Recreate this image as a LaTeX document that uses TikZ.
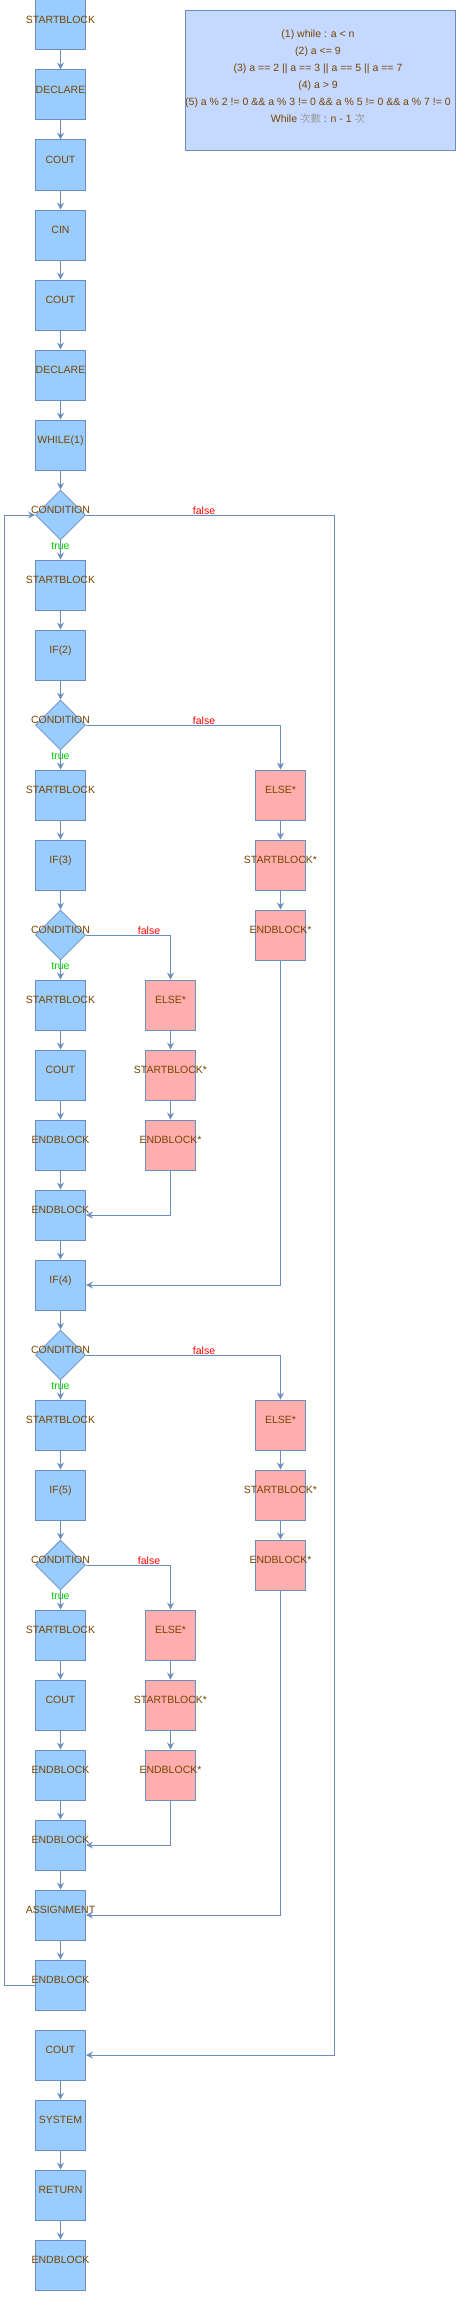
\documentclass[tikz,border=0pt]{standalone}
\usepackage{fontspec}
\setmainfont{Liberation Sans}
\newfontfamily\cjk{Noto Sans CJK TC}
\usepackage{tikz}
\usetikzlibrary{shapes.geometric, arrows.meta}
\usepackage{xcolor}
\definecolor{bleu}{HTML}{99CCFF}
\definecolor{rose}{HTML}{FFADAD}
\definecolor{trait}{HTML}{6C8EBF}
\definecolor{brun}{HTML}{774400}
\definecolor{note}{HTML}{C5D8FF}
\definecolor{vert}{HTML}{00CC00}
\definecolor{gris}{HTML}{9A9A9A}
\newcommand{\tx}[1]{\makebox[0pt]{#1}}

\begin{document}
\begin{tikzpicture}[x=1pt, y=-1pt, font=\fontsize{10.5}{12}\selectfont]

	\tikzstyle{instruct}=[rectangle, draw=trait, fill=bleu, line width=1pt, minimum width=50pt, minimum height=50pt, inner sep=0pt, text height=8pt, text depth=10.5pt, text=brun]
	\tikzstyle{instruct2}=[instruct, fill=rose]
	\tikzstyle{cond}=[diamond, aspect=1, draw=trait, fill=bleu, line width=0.8pt, minimum width=50pt, minimum height=50pt, inner sep=0pt, text height=8pt, text depth=10.5pt, text=brun]
	\tikzstyle{vrai}=[text=vert, inner sep=0pt, anchor=base]
	\tikzstyle{faux}=[text=red, inner sep=0pt, anchor=base]
	\tikzstyle{arc}=[-{Stealth[length=7pt, width=7pt, inset=2.5pt]}, draw=trait, line width=1pt]

	\useasboundingbox (0,0) rectangle (460,2312);

	% legende
	\node[rectangle, draw=trait, fill=note, line width=1pt, minimum width=270pt, minimum height=140pt] (legendbox) at (320.3,80.3) {};
	\node[text=brun, align=center, font=\fontsize{10.5}{17}\selectfont] (legend) at (318,77) {(1) while : a {\textless} n\\ (2) a {\textless}= 9\\ (3) a == 2 || a == 3 || a == 5 || a == 7\\ (4) a {\textgreater} 9\\ (5) a \% 2 != 0 \&\& a \% 3 != 0 \&\& a \% 5 != 0 \&\& a \% 7 != 0\\ While {\color{gris}\cjk 次數} : n - 1 {\color{gris}\cjk 次}};

	% colonne principale
	\node[instruct] (start) at (60.5,25) {\tx{STARTBLOCK}};
	\node[instruct] (decl1) at (60.5,95) {\tx{DECLARE}};
	\node[instruct] (cout1) at (60.5,165) {\tx{COUT}};
	\node[instruct] (cin) at (60.5,235) {\tx{CIN}};
	\node[instruct] (cout2) at (60.5,305) {\tx{COUT}};
	\node[instruct] (decl2) at (60.5,375) {\tx{DECLARE}};
	\node[instruct] (while1) at (60.5,445) {\tx{WHILE(1)}};
	\node[cond] (cond1) at (60.5,515) {\tx{CONDITION}};
	\node[instruct] (sb1) at (60.5,585) {\tx{STARTBLOCK}};
	\node[instruct] (if2) at (60.5,655) {\tx{IF(2)}};
	\node[cond] (cond2) at (60.5,725) {\tx{CONDITION}};
	\node[instruct] (sb2) at (60.5,795) {\tx{STARTBLOCK}};
	\node[instruct] (if3) at (60.5,865) {\tx{IF(3)}};
	\node[cond] (cond3) at (60.5,935) {\tx{CONDITION}};
	\node[instruct] (sb3) at (60.5,1005) {\tx{STARTBLOCK}};
	\node[instruct] (cout3) at (60.5,1075) {\tx{COUT}};
	\node[instruct] (eb1) at (60.5,1145) {\tx{ENDBLOCK}};
	\node[instruct] (eb2) at (60.5,1215) {\tx{ENDBLOCK}};
	\node[instruct] (if4) at (60.5,1285) {\tx{IF(4)}};
	\node[cond] (cond4) at (60.5,1355) {\tx{CONDITION}};
	\node[instruct] (sb4) at (60.5,1425) {\tx{STARTBLOCK}};
	\node[instruct] (if5) at (60.5,1495) {\tx{IF(5)}};
	\node[cond] (cond5) at (60.5,1565) {\tx{CONDITION}};
	\node[instruct] (sb5) at (60.5,1635) {\tx{STARTBLOCK}};
	\node[instruct] (cout4) at (60.5,1705) {\tx{COUT}};
	\node[instruct] (eb3) at (60.5,1775) {\tx{ENDBLOCK}};
	\node[instruct] (eb4) at (60.5,1845) {\tx{ENDBLOCK}};
	\node[instruct] (assign) at (60.5,1915) {\tx{ASSIGNMENT}};
	\node[instruct] (eb5) at (60.5,1985) {\tx{ENDBLOCK}};
	\node[instruct] (cout5) at (60.5,2055) {\tx{COUT}};
	\node[instruct] (sys) at (60.5,2125) {\tx{SYSTEM}};
	\node[instruct] (ret) at (60.5,2195) {\tx{RETURN}};
	\node[instruct] (end) at (60.5,2265) {\tx{ENDBLOCK}};

	% branches else
	\node[instruct2] (else2) at (280.5,795) {\tx{ELSE*}};
	\node[instruct2] (sbe2) at (280.5,865) {\tx{STARTBLOCK*}};
	\node[instruct2] (ebe2) at (280.5,935) {\tx{ENDBLOCK*}};
	\node[instruct2] (else3) at (170.5,1005) {\tx{ELSE*}};
	\node[instruct2] (sbe3) at (170.5,1075) {\tx{STARTBLOCK*}};
	\node[instruct2] (ebe3) at (170.5,1145) {\tx{ENDBLOCK*}};
	\node[instruct2] (else4) at (280.5,1425) {\tx{ELSE*}};
	\node[instruct2] (sbe4) at (280.5,1495) {\tx{STARTBLOCK*}};
	\node[instruct2] (ebe4) at (280.5,1565) {\tx{ENDBLOCK*}};
	\node[instruct2] (else5) at (170.5,1635) {\tx{ELSE*}};
	\node[instruct2] (sbe5) at (170.5,1705) {\tx{STARTBLOCK*}};
	\node[instruct2] (ebe5) at (170.5,1775) {\tx{ENDBLOCK*}};

	% fleches
	\draw[arc] (start.south) -- (decl1.north);
	\draw[arc] (decl1.south) -- (cout1.north);
	\draw[arc] (cout1.south) -- (cin.north);
	\draw[arc] (cin.south) -- (cout2.north);
	\draw[arc] (cout2.south) -- (decl2.north);
	\draw[arc] (decl2.south) -- (while1.north);
	\draw[arc] (while1.south) -- (cond1.north);
	\draw[arc] (cond1.south) -- (sb1.north);
	\draw[arc] (sb1.south) -- (if2.north);
	\draw[arc] (if2.south) -- (cond2.north);
	\draw[arc] (cond2.south) -- (sb2.north);
	\draw[arc] (sb2.south) -- (if3.north);
	\draw[arc] (if3.south) -- (cond3.north);
	\draw[arc] (cond3.south) -- (sb3.north);
	\draw[arc] (sb3.south) -- (cout3.north);
	\draw[arc] (cout3.south) -- (eb1.north);
	\draw[arc] (eb1.south) -- (eb2.north);
	\draw[arc] (eb2.south) -- (if4.north);
	\draw[arc] (if4.south) -- (cond4.north);
	\draw[arc] (cond4.south) -- (sb4.north);
	\draw[arc] (sb4.south) -- (if5.north);
	\draw[arc] (if5.south) -- (cond5.north);
	\draw[arc] (cond5.south) -- (sb5.north);
	\draw[arc] (sb5.south) -- (cout4.north);
	\draw[arc] (cout4.south) -- (eb3.north);
	\draw[arc] (eb3.south) -- (eb4.north);
	\draw[arc] (eb4.south) -- (assign.north);
	\draw[arc] (assign.south) -- (eb5.north);
	\draw[arc] (cout5.south) -- (sys.north);
	\draw[arc] (sys.south) -- (ret.north);
	\draw[arc] (ret.south) -- (end.north);

	\draw[arc] (else2.south) -- (sbe2.north);
	\draw[arc] (sbe2.south) -- (ebe2.north);
	\draw[arc] (else3.south) -- (sbe3.north);
	\draw[arc] (sbe3.south) -- (ebe3.north);
	\draw[arc] (else4.south) -- (sbe4.north);
	\draw[arc] (sbe4.south) -- (ebe4.north);
	\draw[arc] (else5.south) -- (sbe5.north);
	\draw[arc] (sbe5.south) -- (ebe5.north);

	% false / retour
	\draw[arc] (cond1.east) -- ++(249,0) |- (cout5.east);
	\draw[arc] (eb5.west) -- ++(-30.5,0) |- (cond1.west);
	\draw[arc] (cond2.east) -| (else2.north);
	\draw[arc] (ebe2.south) |- (if4.east);
	\draw[arc] (cond3.east) -| (else3.north);
	\draw[arc] (ebe3.south) |- (eb2.east);
	\draw[arc] (cond4.east) -| (else4.north);
	\draw[arc] (ebe4.south) |- (assign.east);
	\draw[arc] (cond5.east) -| (else5.north);
	\draw[arc] (ebe5.south) |- (eb4.east);

	% etiquettes
	\node[faux] (f1) at (204,514) {false};
	\node[faux] (f2) at (204,724) {false};
	\node[faux] (f3) at (149,934) {false};
	\node[faux] (f4) at (204,1354) {false};
	\node[faux] (f5) at (149,1564) {false};
	\node[vrai] (t1) at (60.5,549) {true};
	\node[vrai] (t2) at (60.5,759) {true};
	\node[vrai] (t3) at (60.5,969) {true};
	\node[vrai] (t4) at (60.5,1389) {true};
	\node[vrai] (t5) at (60.5,1599) {true};

\end{tikzpicture}
\end{document}
